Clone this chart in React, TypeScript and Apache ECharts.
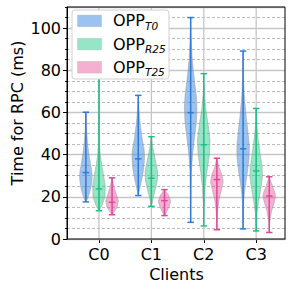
import React, { useEffect, useRef } from 'react';
import * as echarts from 'echarts';

const categories = ['C0', 'C1', 'C2', 'C3'];
const variantSubs = ['T0', 'R25', 'T25'];
const yTickValues = [0, 20, 40, 60, 80, 100];

// per-category statistics for each variant
const minsT0 = [17.6, 20.6, 7.9, 4.8];
const maxsT0 = [60.1, 68.1, 105, 89.1];
const mediansT0 = [31.5, 38.0, 59.9, 42.8];

const minsR25 = [13.4, 15.5, 6.2, 3.8];
const maxsR25 = [85, 48.5, 78.4, 61.9];
const mediansR25 = [23.7, 28.8, 44.7, 32.3];

const minsT25 = [11.5, 11.1, 4.4, 3.1];
const maxsT25 = [29.0, 23.4, 38.3, 29.5];
const mediansT25 = [17.4, 18.2, 28.2, 20.4];

// density profiles: [value, relative width]
const profilesT0 = [
  [[60.1, 0], [55, 0.08], [50, 0.15], [45, 0.28], [40, 0.5], [36, 0.72], [32, 0.95], [29, 1.0], [25, 0.85], [22, 0.6], [19, 0.25], [17.6, 0]],
  [[68.1, 0], [62, 0.1], [55, 0.3], [48, 0.6], [42, 0.95], [38, 1.0], [33, 0.85], [28, 0.55], [24, 0.25], [20.6, 0]],
  [[105, 0], [95, 0.08], [85, 0.25], [75, 0.6], [68, 0.9], [62, 1.0], [55, 0.9], [48, 0.6], [40, 0.3], [32, 0.1], [20, 0.03], [7.9, 0]],
  [[89.1, 0], [78, 0.05], [68, 0.2], [58, 0.5], [50, 0.8], [44, 1.0], [38, 0.95], [32, 0.7], [26, 0.4], [20, 0.15], [12, 0.04], [4.8, 0]],
];
const profilesR25 = [
  [[85, 0], [60, 0.03], [45, 0.08], [40, 0.2], [35, 0.45], [30, 0.75], [25, 1.0], [20, 0.95], [16, 0.5], [13.4, 0]],
  [[48.5, 0], [44, 0.2], [38, 0.6], [32, 1.0], [28, 0.95], [23, 0.6], [19, 0.25], [15.5, 0]],
  [[78.4, 0], [70, 0.08], [62, 0.3], [54, 0.7], [47, 1.0], [40, 0.9], [32, 0.5], [24, 0.2], [15, 0.05], [6.2, 0]],
  [[61.9, 0], [55, 0.08], [48, 0.3], [40, 0.65], [34, 0.95], [30, 1.0], [25, 0.8], [18, 0.4], [12, 0.12], [3.8, 0]],
];
const profilesT25 = [
  [[29.0, 0], [25, 0.3], [21, 0.7], [18, 1.0], [15, 0.8], [13, 0.4], [11.5, 0]],
  [[23.4, 0], [21, 0.6], [18, 1.0], [15, 0.7], [12.5, 0.3], [11.1, 0]],
  [[38.3, 0], [34, 0.35], [30, 0.85], [27, 1.0], [23, 0.7], [18, 0.3], [12, 0.08], [4.4, 0]],
  [[29.5, 0], [26, 0.4], [22, 0.9], [20, 1.0], [17, 0.75], [13, 0.35], [8, 0.08], [3.1, 0]],
];

const variantMins = [minsT0, minsR25, minsT25];
const variantMaxs = [maxsT0, maxsR25, maxsT25];
const variantMedians = [mediansT0, mediansR25, mediansT25];
const variantProfiles = [profilesT0, profilesR25, profilesT25];

const offsets = [-0.25, 0, 0.25];
const lineColors = ['#2b7bd8', '#1ec184', '#e0479a'];
const fillColors = ['rgba(74,144,226,0.55)', 'rgba(46,204,143,0.5)', 'rgba(232,80,154,0.45)'];

const FONT = 'DejaVu Sans';
const G = { left: 67, top: 7, right: 8, bottom: 54 };
const W = 293, H = 293;

export default function App() {
  const ref = useRef<HTMLDivElement>(null);
  useEffect(() => {
    if (!ref.current) return;
    const chart = echarts.init(ref.current, undefined, { renderer: 'svg' });

    const violinSeries = variantSubs.map((sub, vi) => ({
      type: 'custom',
      name: 'OPP' + sub,
      z: 3,
      silent: true,
      data: categories.map((_, ci) => [ci + offsets[vi], variantMedians[vi][ci]]),
      renderItem: (params: any, api: any) => {
        const ci = params.dataIndex;
        const cx = ci + offsets[vi];
        const prof = variantProfiles[vi][ci];
        const c0 = api.coord([cx, 0]);
        const c1 = api.coord([cx + 1, 0]);
        const unit = c1[0] - c0[0];
        const hw = 6.3 / unit;
        const right = prof.map(([v, w]: number[]) => api.coord([cx + hw * w, v]));
        const left = prof.slice().reverse().map(([v, w]: number[]) => api.coord([cx - hw * w, v]));
        const top = api.coord([cx, variantMaxs[vi][ci]]);
        const bot = api.coord([cx, variantMins[vi][ci]]);
        const med = api.coord([cx, variantMedians[vi][ci]]);
        const cap = 3.2;
        const ls = { stroke: lineColors[vi], lineWidth: 1.5 };
        return {
          type: 'group',
          children: [
            { type: 'polygon', shape: { points: right.concat(left) }, style: { fill: fillColors[vi], stroke: 'rgba(150,150,150,0.45)', lineWidth: 1 } },
            { type: 'line', shape: { x1: top[0], y1: top[1], x2: bot[0], y2: bot[1] }, style: ls },
            { type: 'line', shape: { x1: top[0] - cap, y1: top[1], x2: top[0] + cap, y2: top[1] }, style: ls },
            { type: 'line', shape: { x1: bot[0] - cap, y1: bot[1], x2: bot[0] + cap, y2: bot[1] }, style: ls },
            { type: 'line', shape: { x1: med[0] - cap, y1: med[1], x2: med[0] + cap, y2: med[1] }, style: ls },
          ],
        };
      },
    }));

    const gridXSeries = {
      type: 'custom',
      z: 1,
      silent: true,
      data: categories.map((_, i) => [i, 0]),
      renderItem: (params: any, api: any) => {
        const i = params.dataIndex;
        const a = api.coord([i, 0]);
        const b = api.coord([i, 110]);
        return { type: 'line', shape: { x1: a[0], y1: a[1], x2: b[0], y2: b[1] }, style: { stroke: '#c6c6c6', lineWidth: 1.3 } };
      },
    };

    const LZ = 100;
    const legendChildren: any[] = [
      { type: 'rect', z: LZ, shape: { x: 72, y: 10, width: 97, height: 69, r: 3 }, style: { fill: '#fff', stroke: '#d0d0d0', lineWidth: 1 } },
    ];
    variantSubs.forEach((sub, vi) => {
      const cy = 20.9 + vi * 23.2;
      legendChildren.push({ type: 'rect', z: LZ + 1, shape: { x: 77.5, y: cy - 5.8, width: 24, height: 11.6 }, style: { fill: fillColors[vi], stroke: 'rgba(170,170,170,0.3)', lineWidth: 1 } });
      legendChildren.push({ type: 'text', z: LZ + 1, x: 113, y: cy, style: { text: 'OPP', fontSize: 16, fontFamily: FONT, fill: '#000', align: 'left', verticalAlign: 'middle' } });
      legendChildren.push({ type: 'text', z: LZ + 1, x: 145, y: cy + 4.6, style: { text: sub, fontSize: 10.5, fontStyle: 'italic', fontFamily: FONT, fill: '#000', align: 'left', verticalAlign: 'middle' } });
    });

    chart.setOption({
      animation: false,
      textStyle: { fontFamily: FONT },
      grid: { left: G.left, top: G.top, right: G.right, bottom: G.bottom, containLabel: false },
      xAxis: {
        type: 'value',
        min: -0.61,
        max: 3.55,
        axisLine: { show: true, onZero: false, lineStyle: { color: '#000', width: 1 } },
        axisTick: { show: true, customValues: [0, 1, 2, 3], length: 4, lineStyle: { color: '#000' } },
        axisLabel: { customValues: [0, 1, 2, 3], formatter: (v: number) => categories[Math.round(v)], fontSize: 16, color: '#000', fontFamily: FONT, margin: 7 },
        splitLine: { show: false },
      },
      yAxis: [
        {
          type: 'value', min: 0, max: 110, interval: 20, z: 1,
          axisLine: { show: true, onZero: false, lineStyle: { color: '#000', width: 1 } },
          axisTick: { show: true, length: 4, lineStyle: { color: '#000' } },
          axisLabel: { fontSize: 16, color: '#000', fontFamily: FONT, margin: 6, showMaxLabel: false,
            formatter: (v: number) => (yTickValues.indexOf(v) >= 0 ? String(v) : '') },
          splitLine: { show: true, lineStyle: { color: '#c6c6c6', width: 1.3 } },
        },
        {
          type: 'value', min: 0, max: 110, interval: 5, position: 'left', z: 0,
          axisLine: { show: false, onZero: false },
          axisTick: { show: true, length: 2, lineStyle: { color: '#000' } },
          axisLabel: { show: false },
          splitLine: { show: true, lineStyle: { color: '#bcbcbc', width: 1, type: [3, 2] } },
        },
      ],
      series: [gridXSeries, ...violinSeries],
      graphic: [
        { type: 'rect', z: 50, silent: true, shape: { x: G.left, y: G.top, width: W - G.left - G.right, height: H - G.top - G.bottom }, style: { fill: 'none', stroke: '#000', lineWidth: 1 } },
        { type: 'group', z: LZ, children: legendChildren },
        { type: 'text', x: 17, y: 113, rotation: Math.PI / 2, style: { text: 'Time for RPC (ms)', fontSize: 16, fontFamily: FONT, fill: '#000', align: 'center', verticalAlign: 'middle' } },
        { type: 'text', x: 176.5, y: 274, style: { text: 'Clients', fontSize: 16, fontFamily: FONT, fill: '#000', align: 'center', verticalAlign: 'middle' } },
      ],
    });
    return () => chart.dispose();
  }, []);
  return <div ref={ref} style={{ width: W, height: H, position: 'absolute', left: 0, top: 0 }} />;
}
